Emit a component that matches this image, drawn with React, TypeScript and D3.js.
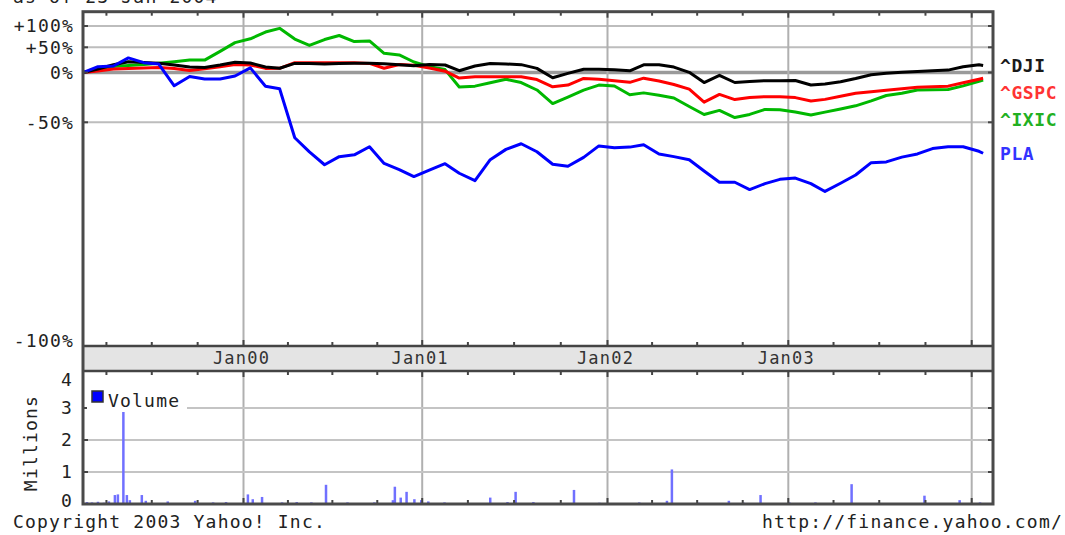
import React from "react";
import * as d3 from "d3";

// ---------- data ----------
const sampleDates = [
  "1999-02-13", "1999-03-15", "1999-04-15", "1999-05-15", "1999-06-15", "1999-07-15", "1999-08-15", "1999-09-15", "1999-10-15", "1999-11-15", "1999-12-15",
  "2000-01-15", "2000-02-15", "2000-03-15", "2000-04-15", "2000-05-15", "2000-06-15", "2000-07-15", "2000-08-15", "2000-09-15", "2000-10-15", "2000-11-15", "2000-12-15",
  "2001-01-15", "2001-02-15", "2001-03-15", "2001-04-15", "2001-05-15", "2001-06-15", "2001-07-15", "2001-08-15", "2001-09-15", "2001-10-15", "2001-11-15", "2001-12-15",
  "2002-01-15", "2002-02-15", "2002-03-15", "2002-04-15", "2002-05-15", "2002-06-15", "2002-07-15", "2002-08-15", "2002-09-15", "2002-10-15", "2002-11-15", "2002-12-15",
  "2003-01-15", "2003-02-15", "2003-03-15", "2003-04-15", "2003-05-15", "2003-06-15", "2003-07-15", "2003-08-15", "2003-09-15", "2003-10-15", "2003-11-15", "2003-12-15",
  "2004-01-15", "2004-01-23",
];

const djiPct = [0, 5.8, 13.2, 18.8, 17.4, 16.1, 13.0, 9.2, 8.5, 12.8, 17.8, 16.5, 9.2, 7.0, 15.7, 15.4, 14.6, 15.6, 15.9, 15.9, 15.0, 13.2, 11.4, 13.7, 12.8, 2.9, 11.0, 15.6, 14.6, 13.5, 6.8, -7.1, -1.2, 5.3, 5.3, 4.4, 2.8, 13.2, 13.4, 9.1, 0.3, -13.1, -3.8, -13.0, -11.8, -10.8, -10.8, -10.5, -16.0, -14.8, -12.1, -8.0, -3.0, -1.1, 0.3, 1.8, 2.9, 3.9, 9.8, 13.2, 11.9];
const gspcPct = [0, 2.4, 5.8, 6.6, 7.5, 8.5, 6.5, 3.4, 6.1, 9.6, 13.7, 12.8, 6.8, 7.0, 17.1, 17.1, 17.1, 17.1, 17.1, 15.7, 7.0, 13.7, 12.3, 7.5, 2.1, -7.4, -5.8, -5.7, -5.7, -5.7, -9.4, -18.1, -16.1, -7.9, -9.0, -10.9, -12.8, -7.6, -11.2, -15.4, -20.7, -33.8, -26.3, -31.4, -29.3, -28.6, -28.6, -29.5, -32.8, -31.2, -28.2, -25.1, -23.5, -21.8, -20.2, -18.6, -17.9, -17.3, -13.4, -8.9, -7.8];
const ixicPct = [0, 4.1, 10.1, 11.9, 13.7, 16.1, 19.0, 22.2, 22.1, 40.6, 59.8, 68.2, 84.4, 93.8, 67.7, 53.8, 66.6, 75.9, 62.0, 63.5, 36.1, 32.7, 18.4, 9.9, 4.8, -18.2, -17.3, -13.2, -9.0, -13.1, -21.6, -35.1, -28.9, -21.8, -16.1, -17.1, -26.7, -24.7, -27.2, -29.9, -37.7, -44.3, -41.0, -46.6, -44.2, -40.2, -40.5, -42.3, -44.7, -42.4, -39.9, -37.1, -32.6, -27.4, -25.0, -21.6, -21.3, -21.1, -17.0, -11.4, -9.9];
const plaPct = [0, 9.8, 11.0, 26.4, 17.1, 14.6, -16.9, -5.5, -8.7, -8.7, -4.8, 7.7, -17.4, -20.3, -59.7, -66.9, -72.3, -69.0, -68.2, -64.4, -71.8, -74.1, -76.5, -74.3, -71.9, -75.4, -77.8, -70.3, -65.7, -62.9, -66.8, -72.1, -72.9, -69.3, -64.0, -64.9, -64.6, -63.4, -67.8, -69.0, -70.3, -74.6, -78.3, -78.3, -80.4, -78.7, -77.4, -77.0, -78.7, -80.9, -78.6, -76.0, -71.5, -71.2, -69.2, -67.8, -65.3, -64.4, -64.4, -66.6, -67.5];

const seriesNames = ["^DJI", "^GSPC", "^IXIC", "PLA"];
const seriesColors = ["#000000", "#ff0000", "#00b800", "#0000ff"];
const legendColors = ["#1a1a1a", "#ff3333", "#22b022", "#3333ff"];

const volDates = [
  "1999-02-21", "1999-03-03", "1999-03-15", "1999-03-27", "1999-04-06", "1999-04-18", "1999-04-24", "1999-05-05", "1999-05-12", "1999-05-18",
  "1999-06-11", "1999-06-19", "1999-08-02", "1999-09-26", "1999-11-01", "1999-11-27", "2000-01-10", "2000-01-20", "2000-02-08", "2000-03-20",
  "2000-04-19", "2000-05-19", "2000-06-18", "2000-08-01", "2000-09-25", "2000-11-02", "2000-11-06", "2000-11-18", "2000-11-30", "2000-12-16",
  "2000-12-30", "2001-01-13", "2001-02-14", "2001-05-15", "2001-06-18", "2001-07-04", "2001-08-08", "2001-10-27", "2001-12-16", "2002-03-06",
  "2002-05-01", "2002-05-11", "2002-07-04", "2002-09-03", "2002-10-03", "2002-11-06", "2003-01-03", "2003-02-24", "2003-05-07", "2003-06-30",
  "2003-09-29", "2003-12-08", "2004-01-17",
];
const volMillions = [
  0.06, 0.05, 0.07, 0.04, 0.08, 0.28, 0.3, 3.0, 0.28, 0.12,
  0.28, 0.1, 0.08, 0.1, 0.05, 0.06, 0.3, 0.15, 0.22, 0.05,
  0.06, 0.05, 0.6, 0.05, 0.05, 0.12, 0.54, 0.2, 0.38, 0.15,
  0.12, 0.08, 0.05, 0.2, 0.06, 0.38, 0.06, 0.44, 0.04, 0.05,
  0.1, 1.08, 0.04, 0.1, 0.04, 0.28, 0.05, 0.05, 0.62, 0.04,
  0.26, 0.12, 0.05,
];

const pctTicks = [100, 50, 0, -50];
const pctTickLabels = ["+100%", "+50%", "0%", "-50%"];
const bottomPctLabel = "-100%";
const volTicks = [0, 1, 2, 3, 4];
const yearStarts = ["2000-01-01", "2001-01-01", "2002-01-01", "2003-01-01", "2004-01-01"];
const titleText = "as of 23-Jan-2004";

// ---------- layout ----------
const W = 1065;
const H = 535;
const L = 83;
const R = 993;
const T = 11.7;
const MB = 346; // main bottom
const BB = 371; // band bottom
const VB = 504; // volume bottom
const FONT = "'DejaVu Sans Mono', monospace";

const parse = d3.timeParse("%Y-%m-%d");

const x = d3
  .scaleTime()
  .domain([parse("1999-02-13")!, parse("2000-01-01")!, parse("2001-01-01")!, parse("2002-01-01")!, parse("2003-01-01")!, parse("2004-01-01")!, parse("2004-02-11")!])
  .range([L, 243.5, 422.2, 607.5, 788.3, 971.7, R]);

const yLog = d3
  .scaleLinear()
  .domain([Math.log(0.5), 0, Math.log(1.5), Math.log(2)])
  .range([122.3, 72.5, 47.3, 26]);
const y = (pct: number) => yLog(Math.log(1 + pct / 100));

const yVol = d3.scaleLinear().domain([0, 3]).range([VB, 408]);

const seriesValues = [djiPct, gspcPct, ixicPct, plaPct];

export default function App() {
  const dates = sampleDates.map((s) => parse(s)!);
  const line = d3
    .line<[Date, number]>()
    .x((d) => x(d[0]))
    .y((d) => y(d[1]));

  const quarters = d3.timeMonth.every(3)!.range(parse("1999-03-01")!, parse("2004-02-11")!).filter((d) => d.getMonth() % 3 === 0);
  const years = yearStarts.map((s) => parse(s)!);
  const fmt = d3.timeFormat("%b%y");

  // legend label positions: end values, pushed apart
  const ends = seriesValues.map((v) => y(v[v.length - 1]));
  const legendY: number[] = [];
  ends.forEach((e, i) => {
    legendY.push(i === 0 ? e : Math.max(e, legendY[i - 1] + 27));
  });

  const drawOrder = [2, 1, 0, 3];
  const txt = { fontFamily: FONT, fontSize: 18, letterSpacing: 1.2, fill: "#222" } as const;

  return (
    <svg width={W} height={H} style={{ position: "absolute", left: 0, top: 0, background: "#fff" }}>
      <defs>
        <clipPath id="mainclip">
          <rect x={L} y={T} width={R - L} height={MB - T} />
        </clipPath>
      </defs>
      <rect x={0} y={0} width={W} height={H} fill="#fff" />
      <text x={13} y={3} {...txt}>{titleText}</text>

      {/* main panel grid */}
      {pctTicks.map((p) => (
        <line key={"hg" + p} x1={L} x2={R} y1={y(p)} y2={y(p)} stroke={p === 0 ? "#9a9a9a" : "#bdbdbd"} strokeWidth={p === 0 ? 3.5 : 2} />
      ))}
      {years.map((d, i) => (
        <g key={"vg" + i}>
          <line x1={x(d)} x2={x(d)} y1={T} y2={MB} stroke="#b0b0b0" strokeWidth={2} />
          <line x1={x(d)} x2={x(d)} y1={BB} y2={VB} stroke="#b0b0b0" strokeWidth={2} />
        </g>
      ))}

      {/* volume grid */}
      {volTicks.filter((v) => v > 0 && v < 4).map((v) => (
        <line key={"vh" + v} x1={L} x2={R} y1={yVol(v)} y2={yVol(v)} stroke="#c4c4c4" strokeWidth={2} />
      ))}

      {/* lines */}
      <g clipPath="url(#mainclip)">
        {drawOrder.map((i) => (
          <path
            key={seriesNames[i]}
            d={line(dates.map((d, k) => [d, seriesValues[i][k]] as [Date, number])) || ""}
            fill="none"
            stroke={seriesColors[i]}
            strokeWidth={3}
            strokeLinejoin="round"
          />
        ))}
      </g>

      {/* volume bars */}
      {volDates.map((s, i) => {
        const xx = x(parse(s)!);
        return <line key={"vb" + i} x1={xx} x2={xx} y1={VB} y2={yVol(volMillions[i])} stroke="#7070ff" strokeWidth={2.5} />;
      })}

      {/* band */}
      <rect x={L} y={MB} width={R - L} height={BB - MB} fill="#e4e4e4" />
      <line x1={L} x2={R} y1={MB} y2={MB} stroke="#444" strokeWidth={2.5} />
      <line x1={L} x2={R} y1={BB} y2={BB} stroke="#444" strokeWidth={2.5} />
      {years.map((d, i) => {
        const xx = x(d);
        if (xx + 30 > R) return null;
        return (
          <text key={"yl" + i} x={xx - 2} y={364} textAnchor="middle" {...txt} fontSize={17} fill="#333">
            {fmt(d)}
          </text>
        );
      })}

      {/* ticks */}
      {quarters.map((d, i) => {
        const xx = x(d);
        const len = d.getMonth() === 0 ? 6 : 4;
        return (
          <g key={"qt" + i} stroke="#444" strokeWidth={2}>
            <line x1={xx} x2={xx} y1={T} y2={T + len} />
            <line x1={xx} x2={xx} y1={MB} y2={MB - len} />
            <line x1={xx} x2={xx} y1={BB} y2={BB + len} />
            <line x1={xx} x2={xx} y1={VB} y2={VB - len} />
          </g>
        );
      })}
      {pctTicks.map((p) => (
        <g key={"pt" + p} stroke="#444" strokeWidth={2}>
          <line x1={L} x2={L + 5} y1={y(p)} y2={y(p)} />
          <line x1={R} x2={R - 5} y1={y(p)} y2={y(p)} />
        </g>
      ))}
      {volTicks.filter((v) => v > 0 && v < 4).map((v) => (
        <g key={"vt" + v} stroke="#444" strokeWidth={2}>
          <line x1={L} x2={L + 5} y1={yVol(v)} y2={yVol(v)} />
          <line x1={R} x2={R - 5} y1={yVol(v)} y2={yVol(v)} />
        </g>
      ))}

      {/* borders */}
      <rect x={L} y={T} width={R - L} height={VB - T} fill="none" stroke="#4a4a4a" strokeWidth={3} />

      {/* y labels main */}
      {pctTicks.map((p, i) => (
        <text key={"pl" + p} x={74} y={y(p)} dy="0.36em" textAnchor="end" {...txt}>
          {pctTickLabels[i]}
        </text>
      ))}
      <text x={74} y={341} dy="0.36em" textAnchor="end" {...txt}>
        {bottomPctLabel}
      </text>

      {/* volume labels */}
      {volTicks.map((v) => (
        <text key={"vl" + v} x={73} y={Math.max(Math.min(yVol(v), 501), 380)} dy="0.36em" textAnchor="end" {...txt}>
          {v}
        </text>
      ))}
      <text transform={`translate(37,${443}) rotate(-90)`} textAnchor="middle" {...txt}>
        Millions
      </text>

      {/* volume legend */}
      <rect x={87} y={390} width={100} height={22} fill="#fff" />
      <rect x={92} y={391} width={11} height={11} fill="#0000ff" stroke="#333" strokeWidth={1.5} />
      <text x={108} y={407} {...txt}>Volume</text>

      {/* series legend */}
      {seriesNames.map((n, i) => (
        <text key={"lg" + n} x={1000} y={legendY[i]} dy="0.36em" {...txt} fontWeight="bold" letterSpacing={0.6} fill={legendColors[i]}>
          {n}
        </text>
      ))}

      {/* footer */}
      <text x={13} y={528} {...txt}>Copyright 2003 Yahoo! Inc.</text>
      <text x={1063} y={528} textAnchor="end" {...txt}>http://finance.yahoo.com/</text>
    </svg>
  );
}
